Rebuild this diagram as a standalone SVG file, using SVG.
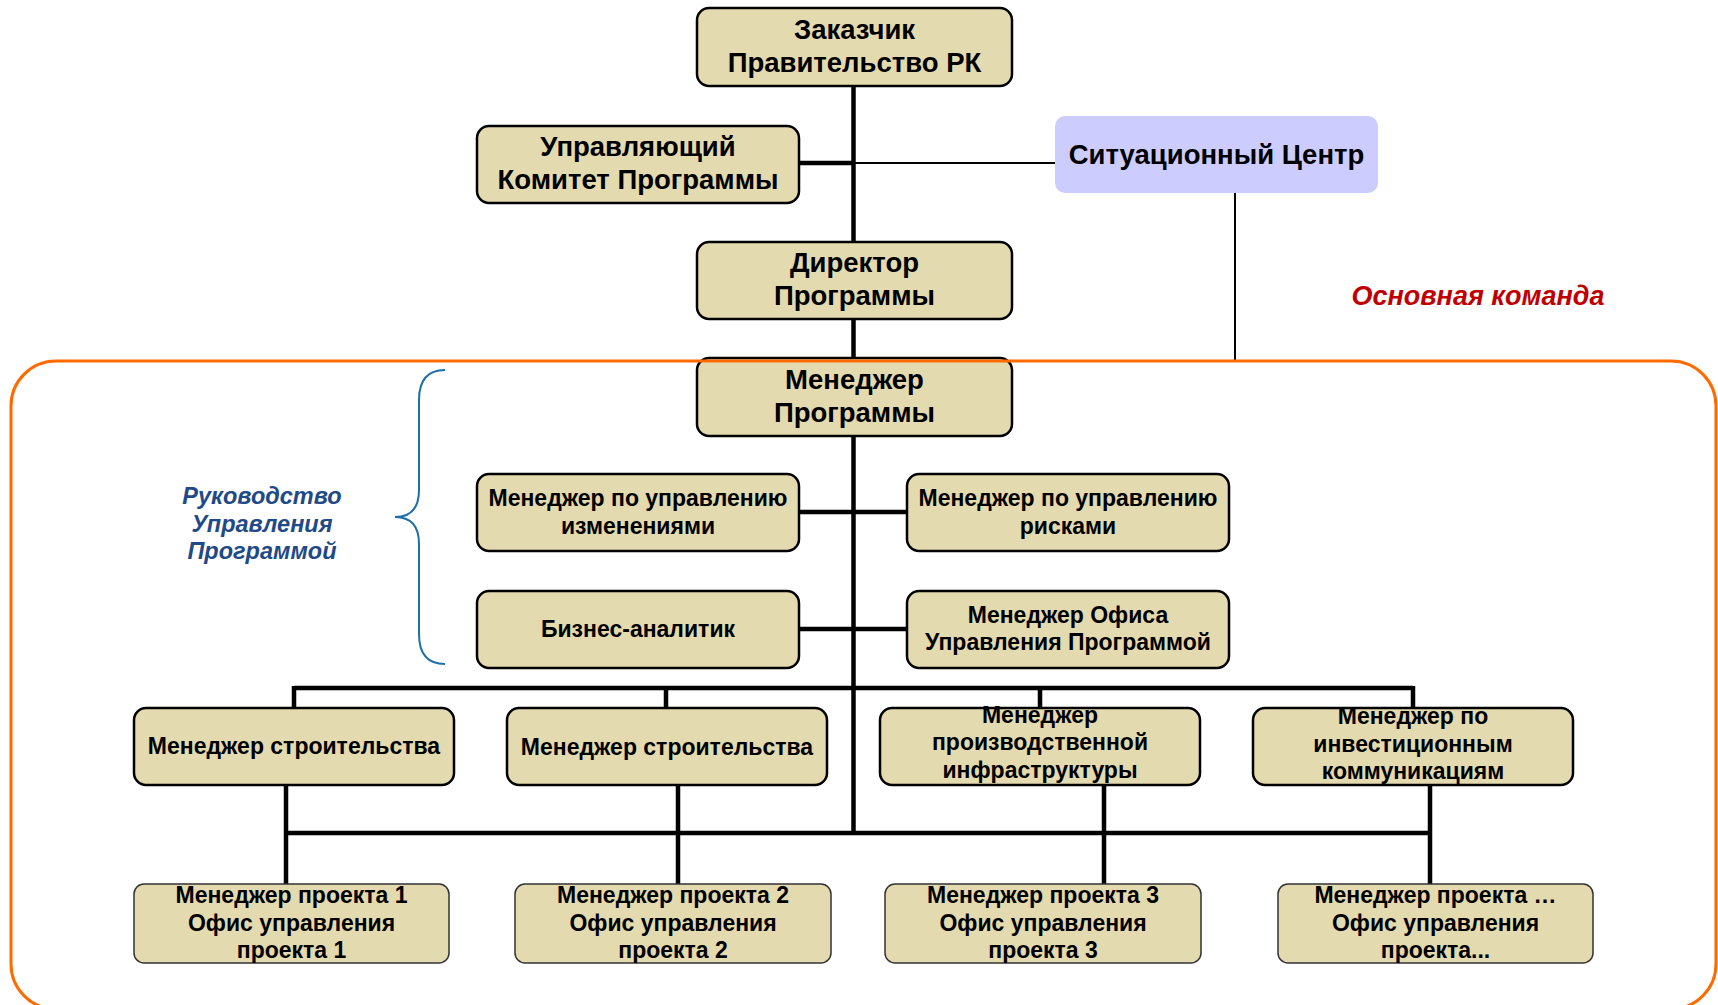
<svg xmlns="http://www.w3.org/2000/svg" width="1718" height="1005" viewBox="0 0 1718 1005">
<style>
.box{fill:#E4DAAF;stroke:#000;stroke-width:2.5}
.pbox{fill:#E4DAAF;stroke:#333;stroke-width:1.5}
.sit{fill:#CCCCFF;stroke:none}
text{font-family:"Liberation Sans",Arial,sans-serif;font-weight:bold;fill:#000;text-anchor:middle}
.big{font-size:27.5px}
.mid{font-size:23px}
.sm{font-size:23px}
.thick{stroke:#000;stroke-width:4.5;fill:none}
.thin{stroke:#000;stroke-width:2;fill:none}
.blue{font-size:23.5px;font-style:italic;fill:#1F4A86}
.red{font-size:27px;font-style:italic;fill:#C00000}
</style>
<rect width="1718" height="1005" fill="#fff"/>
<g id="connectors">
<path class="thick" d="M853.5,86 V833"/>
<path class="thick" d="M799,163 H853.5"/>
<path class="thin" d="M853.5,163 H1056"/>
<path class="thin" d="M1235,193 V361"/>
<path class="thick" d="M799,512 H907"/>
<path class="thick" d="M799,629 H907"/>
<path class="thick" d="M294,688 H1413 M294,686 V709 M666,686 V709 M1040,686 V709 M1413,686 V709"/>
<path class="thick" d="M286,833 H1430 M286,785 V885 M678,785 V885 M1104,785 V885 M1430,785 V885"/>
</g>
<g id="n-zakazchik"><rect class="box" x="697" y="8" width="315" height="78" rx="12"/><text class="big" x="854.5" y="39">Заказчик</text><text class="big" x="854.5" y="72">Правительство РК</text></g>
<g id="n-komitet"><rect class="box" x="477" y="126" width="322" height="77" rx="12"/><text class="big" x="638" y="156">Управляющий</text><text class="big" x="638" y="189">Комитет Программы</text></g>
<g id="n-sit"><rect class="sit" x="1055" y="116" width="323" height="77" rx="10"/><text class="big" x="1216.5" y="164">Ситуационный Центр</text></g>
<g id="n-direktor"><rect class="box" x="697" y="242" width="315" height="77" rx="12"/><text class="big" x="854.5" y="272">Директор</text><text class="big" x="854.5" y="305">Программы</text></g>
<g id="n-menprog"><rect class="box" x="697" y="358" width="315" height="78" rx="12"/><text class="big" x="854.5" y="389">Менеджер</text><text class="big" x="854.5" y="422">Программы</text></g>
<g id="n-izm"><rect class="box" x="477" y="474" width="322" height="77" rx="12"/><text class="mid" x="638" y="506">Менеджер по управлению</text><text class="mid" x="638" y="534">изменениями</text></g>
<g id="n-risk"><rect class="box" x="907" y="474" width="322" height="77" rx="12"/><text class="mid" x="1068" y="506">Менеджер по управлению</text><text class="mid" x="1068" y="534">рисками</text></g>
<g id="n-biz"><rect class="box" x="477" y="591" width="322" height="77" rx="12"/><text class="mid" x="638" y="637">Бизнес-аналитик</text></g>
<g id="n-ofis"><rect class="box" x="907" y="591" width="322" height="77" rx="12"/><text class="mid" x="1068" y="623">Менеджер Офиса</text><text class="mid" x="1068" y="650">Управления Программой</text></g>
<g id="n-str1"><rect class="box" x="134" y="708" width="320" height="77" rx="12"/><text class="mid" x="294" y="754">Менеджер строительства</text></g>
<g id="n-str2"><rect class="box" x="507" y="708" width="320" height="77" rx="12"/><text class="mid" x="667" y="755">Менеджер строительства</text></g>
<g id="n-infra"><rect class="box" x="880" y="708" width="320" height="77" rx="12"/><text class="mid" x="1040" y="723">Менеджер</text><text class="mid" x="1040" y="750">производственной</text><text class="mid" x="1040" y="778">инфраструктуры</text></g>
<g id="n-invest"><rect class="box" x="1253" y="708" width="320" height="77" rx="12"/><text class="mid" x="1413" y="724">Менеджер по</text><text class="mid" x="1413" y="752">инвестиционным</text><text class="mid" x="1413" y="779">коммуникациям</text></g>
<g id="n-p1"><rect class="pbox" x="134" y="884" width="315" height="79" rx="10"/><text class="sm" x="291.5" y="903">Менеджер проекта 1</text><text class="sm" x="291.5" y="931">Офис управления</text><text class="sm" x="291.5" y="958">проекта 1</text></g>
<g id="n-p2"><rect class="pbox" x="515" y="884" width="316" height="79" rx="10"/><text class="sm" x="673" y="903">Менеджер проекта 2</text><text class="sm" x="673" y="931">Офис управления</text><text class="sm" x="673" y="958">проекта 2</text></g>
<g id="n-p3"><rect class="pbox" x="885" y="884" width="316" height="79" rx="10"/><text class="sm" x="1043" y="903">Менеджер проекта 3</text><text class="sm" x="1043" y="931">Офис управления</text><text class="sm" x="1043" y="958">проекта 3</text></g>
<g id="n-pn"><rect class="pbox" x="1278" y="884" width="315" height="79" rx="10"/><text class="sm" x="1435.5" y="903">Менеджер проекта …</text><text class="sm" x="1435.5" y="931">Офис управления</text><text class="sm" x="1435.5" y="958">проекта...</text></g>
<g id="core-team">
<rect x="11" y="361" width="1705" height="648" rx="45" fill="none" stroke="#FF6A00" stroke-width="3"/>
<text class="red" x="1478" y="305">Основная команда</text>
</g>
<g id="brace-label">
<path d="M445,370 Q419,370 419,400 L419,490 Q419,517 395,517 Q419,517 419,544 L419,634 Q419,664 445,664" fill="none" stroke="#1F6FA8" stroke-width="2"/>
<text class="blue" x="262" y="504">Руководство</text>
<text class="blue" x="262" y="532">Управления</text>
<text class="blue" x="262" y="559">Программой</text>
</g>
</svg>
